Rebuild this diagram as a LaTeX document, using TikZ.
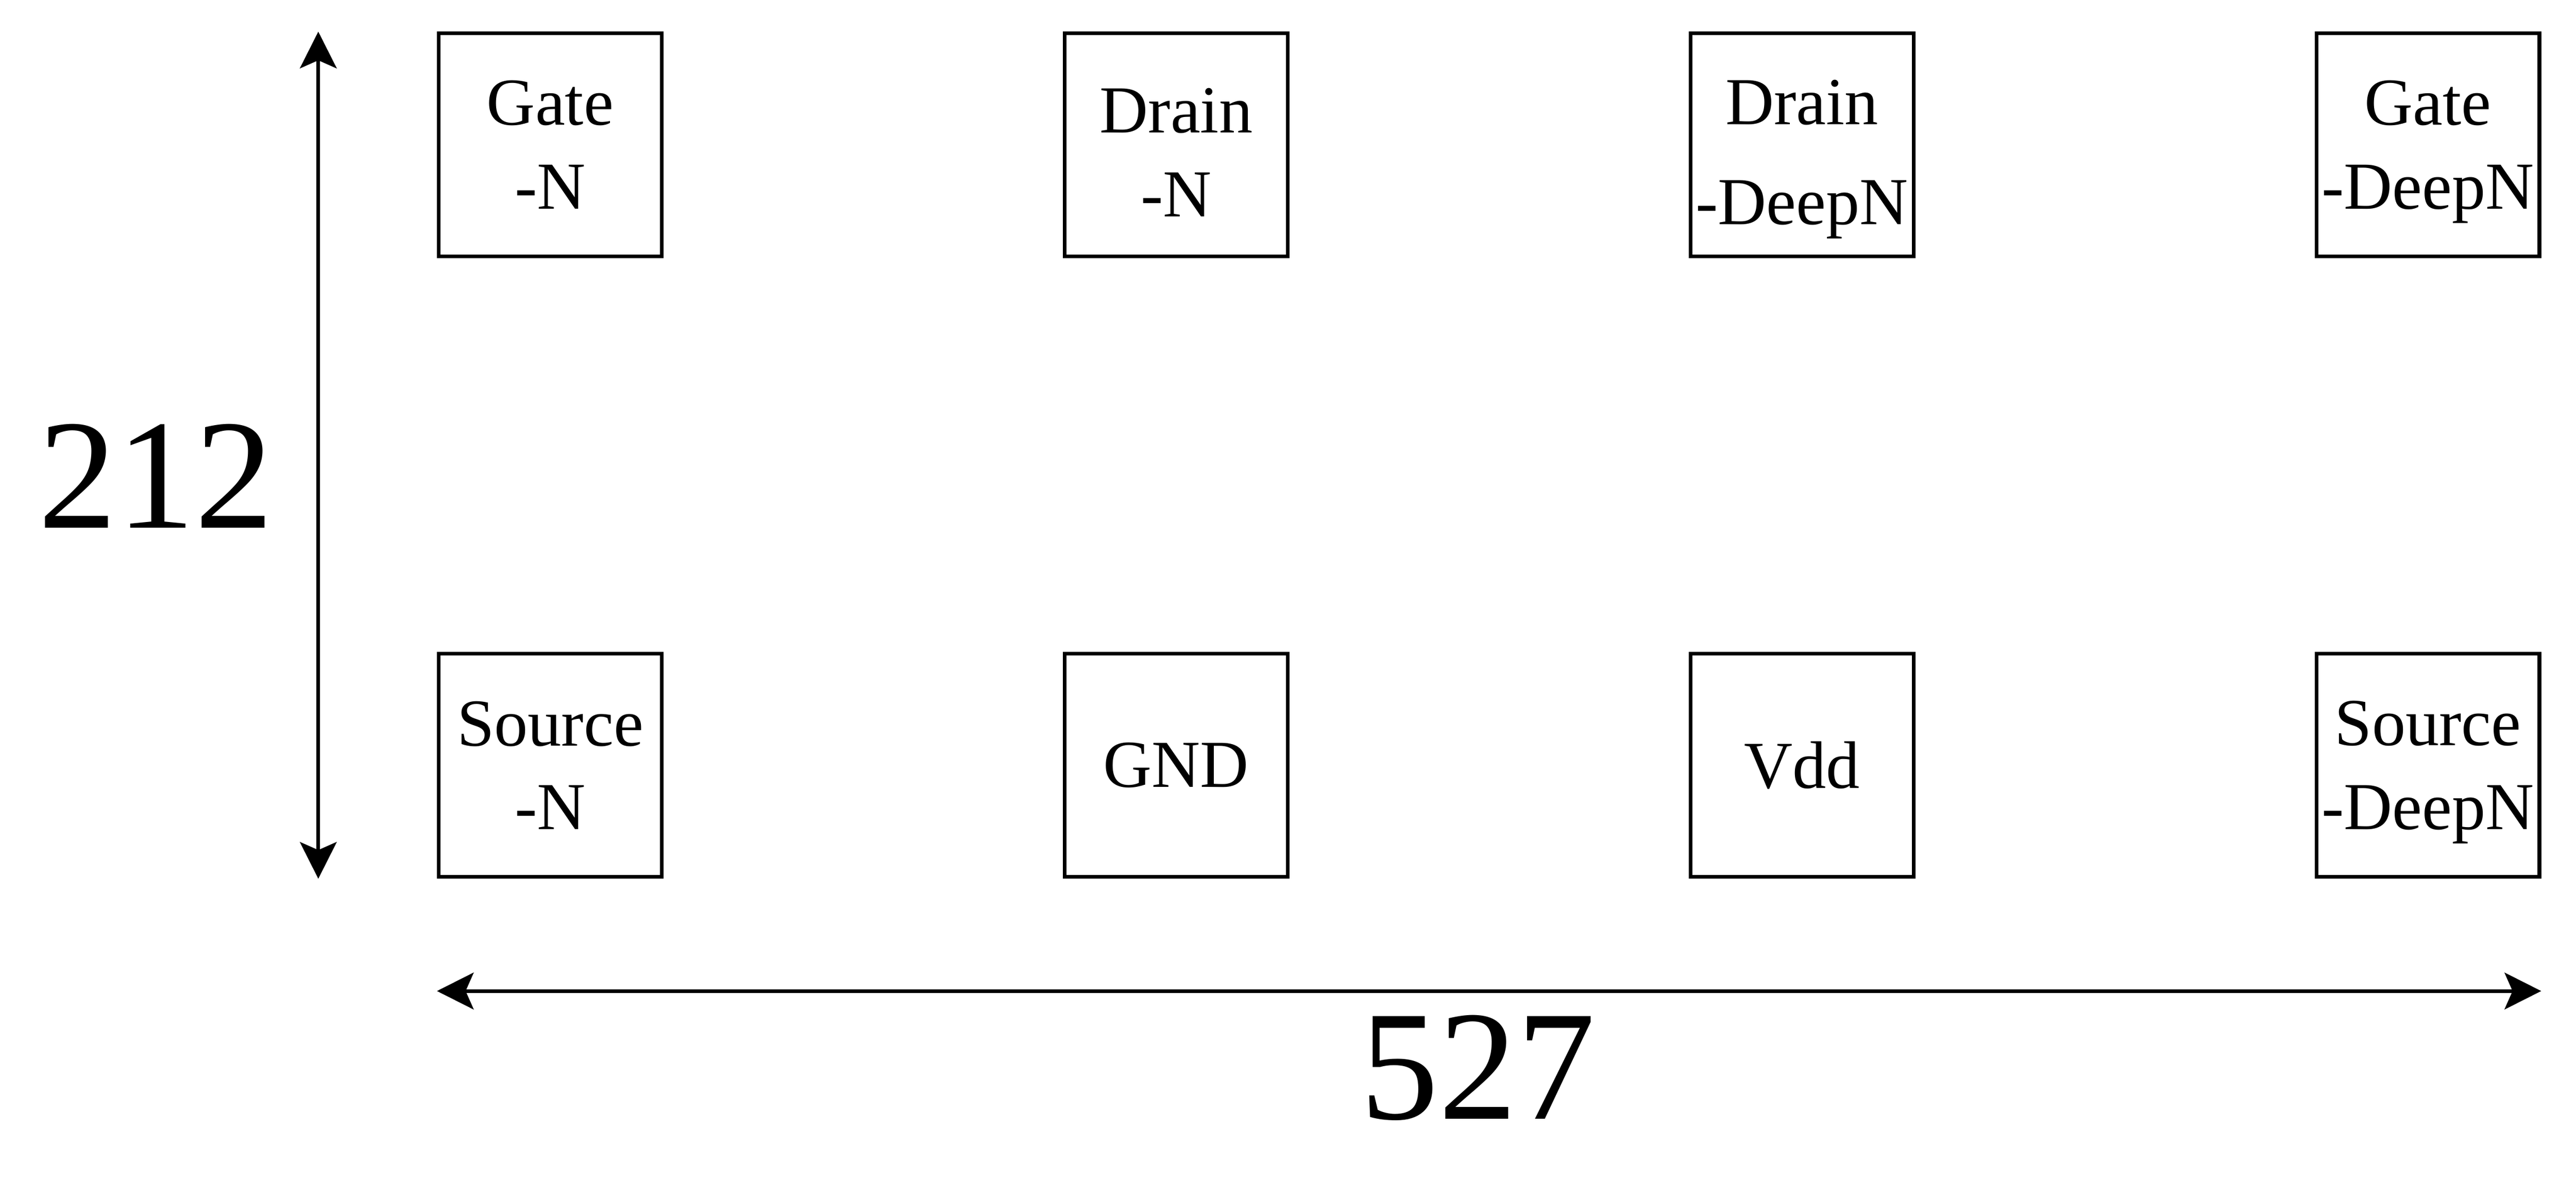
\documentclass[tikz,border=0pt]{standalone}
\usepackage{fontspec}
\setmainfont{Liberation Serif}
\usetikzlibrary{arrows.meta, calc}

\tikzset{
  pad/.style={draw, line width=0.65pt, minimum width=1.4cm, minimum height=1.4cm,
    inner sep=0pt, align=center, font=\fontsize{12}{15}\selectfont},
  dim/.style={line width=0.65pt, {Stealth[length=2.3mm, width=2.3mm, inset=0.5mm]}-{Stealth[length=2.3mm, width=2.3mm, inset=0.5mm]}},
  dimlabel/.style={font=\fontsize{28}{30}\selectfont}
}

\begin{document}
\begin{tikzpicture}
\useasboundingbox (0,0) rectangle (16.175,7.5);

            %% top row
            \node[pad] (gaten) at (3.455, 6.59) {Gate\\-N};
            \node[pad] (drainn) at (3.455+3.93, 6.59) {\rule{0pt}{10.6pt}Drain\\-N};
            \node[pad] (draindeep) at (3.455+2*3.93, 6.59) {\rule{0pt}{10.6pt}Drain\\[2.85pt]-Dee\smash{p}N};
            \node[pad] (gatedeep) at (3.455+3*3.93, 6.59) {Gate\\-Dee\smash{p}N};

            %% bottom row
            \node[pad] (sourcen) at (3.455, 2.695) {Source\\-N};
            \node[pad] (gnd) at (3.455+3.93, 2.695) {GND};
            \node[pad] (vdd) at (3.455+2*3.93, 2.695) {Vdd};
            \node[pad] (sourcedeep) at (3.455+3*3.93, 2.695) {Source\\-Dee\smash{p}N};

            %% height
            \coordinate (htop) at ($(gaten.north west) + (-0.745, 0)$);
            \coordinate (hbot) at ($(sourcen.south west) + (-0.745, 0)$);
            \draw[dim] (htop) -- (hbot);
            \node[dimlabel] (height) at (0.98, 4.51) {212};

            %% width
            \coordinate (wleft) at ($(sourcen.south west) + (0, -0.705)$);
            \coordinate (wright) at ($(sourcedeep.south east) + (0, -0.705)$);
            \draw[dim] (wleft) -- (wright);
            \node[dimlabel] (width) at (9.28, 0.795) {527};

\end{tikzpicture}
\end{document}
